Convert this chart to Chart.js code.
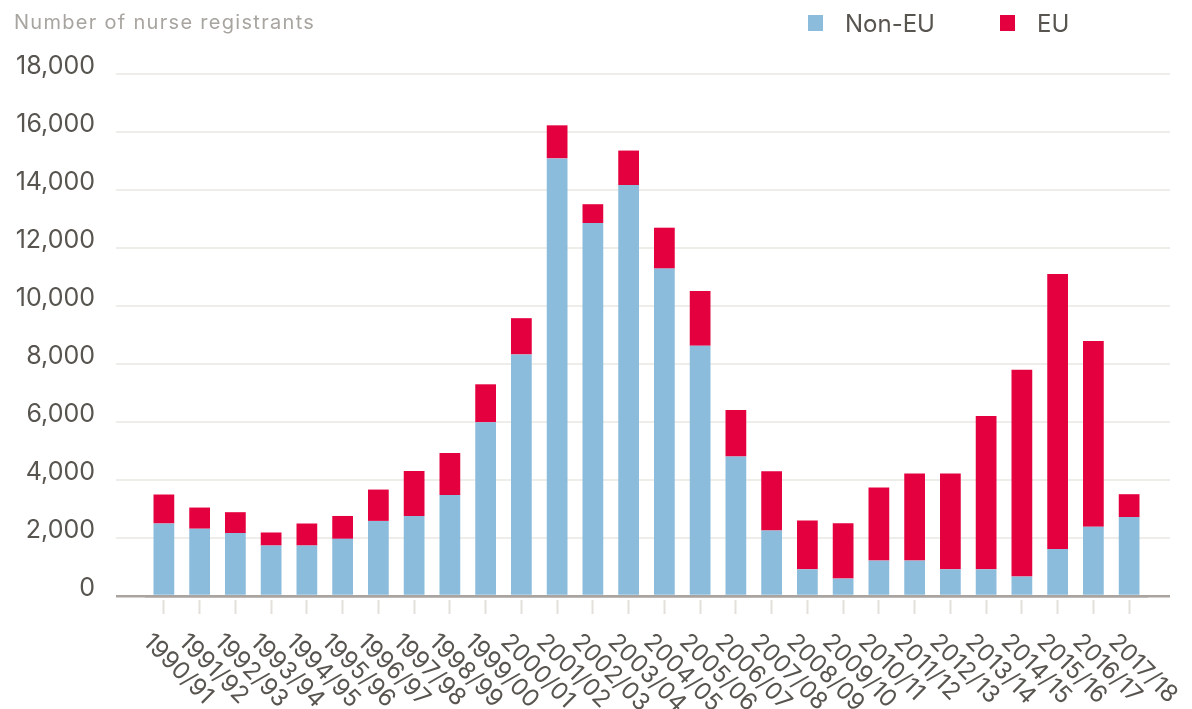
<!DOCTYPE html>
<html>
<head>
<meta charset="utf-8">
<script src="https://cdn.jsdelivr.net/npm/chart.js@4"></script>
<style>
html,body{margin:0;padding:0;background:#ffffff;}
#wrap{width:1192px;height:709px;position:relative;}
canvas{display:block;}
</style>
</head>
<body>
<div id="wrap"><canvas id="c" width="1192" height="709"></canvas></div>
<script>
const categories = ['1990/91','1991/92','1992/93','1993/94','1994/95','1995/96','1996/97','1997/98','1998/99','1999/00','2000/01','2001/02','2002/03','2003/04','2004/05','2005/06','2006/07','2007/08','2008/09','2009/10','2010/11','2011/12','2012/13','2013/14','2014/15','2015/16','2016/17','2017/18'];
const nonEU = [2500,2320,2170,1740,1740,1970,2590,2760,3480,5990,8330,15090,12860,14170,11290,8630,4810,2260,920,600,1220,1220,920,920,670,1620,2390,2720];
const eu = [1000,730,720,450,760,790,1080,1550,1450,1310,1250,1140,650,1190,1410,1890,1600,2040,1680,1910,2520,3000,3300,5290,7130,9480,6400,790];
const yTickLabels = ['0','2,000','4,000','6,000','8,000','10,000','12,000','14,000','16,000','18,000'];
const yTitle = 'Number of nurse registrants';
const seriesNames = ['Non-EU','EU'];
const seriesColors = ['#8bbcdb','#e4003f'];

const FONT = 'Inter, "Liberation Sans", sans-serif';
const TEXT = '#58544f';
const GRID = '#efede9';
const AXIS = '#a9a49f';

const gridColor = (ctx) => (ctx.tick && ctx.tick.value === 0) ? AXIS : GRID;
const gridWidth = (ctx) => (ctx.tick && ctx.tick.value === 0) ? 2.5 : 2;

const decor = {
  id: 'decor',
  afterDraw(chart) {
    const c = chart.ctx;
    const xs = chart.scales.x;
    c.save();
    // rotated category labels
    c.fillStyle = TEXT;
    c.font = '400 24px ' + FONT;
    c.textAlign = 'left';
    c.textBaseline = 'alphabetic';
    categories.forEach((lab, i) => {
      const px = xs.getPixelForValue(i);
      c.save();
      c.translate(px - 22, 643);
      c.rotate(Math.PI / 4);
      c.fillText(lab, 0, 0);
      c.restore();
    });
    // axis title
    c.fillStyle = '#a8a4a0';
    c.font = '400 20px ' + FONT;
    if ('letterSpacing' in c) c.letterSpacing = '1.3px';
    c.fillText(yTitle, 14, 28.5);
    if ('letterSpacing' in c) c.letterSpacing = '0px';
    // legend
    const legendX = [808, 1000];
    c.font = '400 24px ' + FONT;
    chart.data.datasets.forEach((ds, i) => {
      const lx = legendX[i];
      c.fillStyle = ds.backgroundColor;
      c.fillRect(lx, 15, 15, 16);
      c.fillStyle = TEXT;
      c.fillText(ds.label, lx + 37, 32);
    });
    c.restore();
  }
};

new Chart(document.getElementById('c'), {
  type: 'bar',
  data: {
    labels: categories,
    datasets: [
      { label: seriesNames[0], data: nonEU, backgroundColor: seriesColors[0], barPercentage: 0.58, categoryPercentage: 1 },
      { label: seriesNames[1], data: eu, backgroundColor: seriesColors[1], barPercentage: 0.58, categoryPercentage: 1 }
    ]
  },
  options: {
    responsive: false,
    animation: false,
    devicePixelRatio: 1,
    layout: { padding: { top: 74, bottom: 95, left: 0, right: 22 } },
    plugins: { legend: { display: false }, tooltip: { enabled: false }, title: { display: false } },
    scales: {
      x: {
        stacked: true,
        offset: true,
        grid: {
          display: true, offset: false, drawOnChartArea: false, drawTicks: true,
          tickLength: 18, tickColor: '#e3e0db', tickWidth: 2,
          tickBorderDash: [14, 100], tickBorderDashOffset: -2.5, z: -1
        },
        border: { display: true, color: AXIS, width: 2.5, z: 1 },
        ticks: { display: false }
      },
      y: {
        stacked: true,
        min: 0, max: 18000,
        afterFit: (s) => { s.width = 146; },
        ticks: {
          stepSize: 2000, padding: 21, labelOffset: -8, color: TEXT,
          font: { family: FONT, size: 25, weight: '400' },
          callback: (v) => yTickLabels[Math.round(v / 2000)]
        },
        grid: { color: gridColor, lineWidth: gridWidth, drawTicks: true, tickLength: 30 },
        border: { display: false }
      },
      y2: {
        display: true,
        position: 'right',
        min: 0, max: 18000,
        afterFit: (s) => { s.width = 23; },
        ticks: { display: false, stepSize: 2000 },
        grid: { color: gridColor, lineWidth: gridWidth, drawOnChartArea: false, drawTicks: true, tickLength: 23 },
        border: { display: false }
      }
    }
  },
  plugins: [decor]
});
</script>
</body>
</html>
